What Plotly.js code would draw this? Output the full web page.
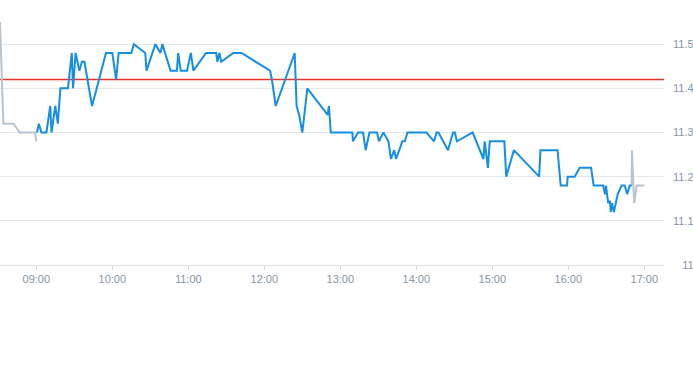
<!DOCTYPE html>
<html>
<head>
<meta charset="utf-8">
<script src="https://cdn.plot.ly/plotly-3.0.1.min.js"></script>
<style>html,body{margin:0;padding:0;background:#fff;}#chart{width:693px;height:365px;}</style>
</head>
<body>
<div id="chart"></div>
<script>
var day = '2024-01-02 ';
var preTimes = ['08:31:20','08:34','08:42','08:47','08:59','09:00'];
var preValues = [11.55,11.32,11.32,11.30,11.30,11.28];

var mainTimes = ['09:00:30','09:02','09:04','09:08','09:11','09:12','09:15','09:17','09:18','09:19',
 '09:25','09:28','09:29','09:31','09:34','09:36','09:38','09:44','09:55','10:00',
 '10:03','10:05','10:15','10:17','10:26','10:27','10:34','10:38','10:39:30','10:46',
 '10:51','10:52','10:54','10:59','11:02','11:04','11:14','11:22','11:23','11:24:30',
 '11:26','11:35:30','11:42','12:04:30','12:06','12:09','12:24','12:25:30','12:27:30','12:30',
 '12:34','12:50','12:51','12:52:30','13:09:30','13:10','13:14','13:18','13:20','13:23',
 '13:29','13:30:30','13:34','13:38','13:40','13:42:30','13:44','13:49','13:51','13:53',
 '14:08','14:14','14:16','14:17:30','14:25','14:29','14:30:30','14:32','14:44:30','14:53',
 '14:54','14:56:30','14:58','15:09:30','15:11','15:17','15:37','15:38','15:51:30','15:54',
 '15:59','15:59:30','16:05','16:09','16:18','16:20','16:27:30','16:29','16:29:45','16:31:30',
 '16:33','16:33:30','16:34:30','16:36','16:39','16:42','16:44:30','16:46:30','16:48:30','16:50'];
var mainValues = [11.30,11.32,11.30,11.30,11.36,11.30,11.36,11.32,11.36,11.40,
 11.40,11.48,11.40,11.48,11.44,11.46,11.46,11.36,11.48,11.48,
 11.42,11.48,11.48,11.50,11.48,11.44,11.50,11.48,11.50,11.44,
 11.44,11.48,11.44,11.44,11.48,11.44,11.48,11.48,11.46,11.48,
 11.46,11.48,11.48,11.44,11.42,11.36,11.48,11.36,11.34,11.30,
 11.40,11.34,11.36,11.30,11.30,11.28,11.30,11.30,11.26,11.30,
 11.30,11.28,11.30,11.28,11.24,11.26,11.24,11.28,11.28,11.30,
 11.30,11.28,11.30,11.30,11.26,11.30,11.30,11.28,11.30,11.24,
 11.28,11.22,11.28,11.28,11.20,11.26,11.20,11.26,11.26,11.18,
 11.18,11.20,11.20,11.22,11.22,11.18,11.18,11.16,11.18,11.14,
 11.145,11.12,11.14,11.12,11.16,11.18,11.18,11.16,11.18,11.18];

var postTimes = ['16:50','16:50:15','16:52','16:53:30','16:54','17:00'];
var postValues = [11.18,11.26,11.14,11.17,11.18,11.18];

var prevClose = 11.42;
var yTickVals = [11, 11.1, 11.2, 11.3, 11.4, 11.5];
var yTickText = ['11', '11.1', '11.2', '11.3', '11.4', '11.5'];
var xRange = ['08:31:20', '17:15:33'];

function ts(a){ return a.map(function(t){ return day + t; }); }
var paddedY = yTickText.map(function(s){ return s.length < 4 ? '\u00a0\u00a0\u00a0' + s : s; });

var traces = [
  {x: ts(xRange), y: [prevClose, prevClose], type: 'scatter', mode: 'lines', line: {color: 'rgb(228,52,42)', width: 1.3}, hoverinfo: 'skip'},
  {x: ts(preTimes), y: preValues, type: 'scatter', mode: 'lines', line: {color: '#b9c4ce', width: 2}, hoverinfo: 'skip'},
  {x: ts(postTimes), y: postValues, type: 'scatter', mode: 'lines', line: {color: '#b9c4ce', width: 2}, hoverinfo: 'skip'},
  {x: ts(mainTimes), y: mainValues, type: 'scatter', mode: 'lines', line: {color: '#158fe2', width: 2}, hoverinfo: 'skip'}
];

var layout = {
  width: 693, height: 365,
  margin: {l: 0, r: 29, t: 0, b: 100, pad: 0},
  paper_bgcolor: '#fff', plot_bgcolor: '#fff',
  showlegend: false,
  font: {family: '"Liberation Sans", Arial, sans-serif', size: 11, color: '#8a97a7'},
  xaxis: {
    type: 'date', range: ts(xRange), tickformat: '%H:%M', dtick: 3600000, tick0: day + '09:00',
    ticks: 'outside', ticklen: 4, tickcolor: '#d5dae0', tickwidth: 1,
    showgrid: false, zeroline: false, showline: true, linecolor: '#dde1e6', linewidth: 1,
    tickfont: {size: 11, color: '#8795a6'}
  },
  yaxis: {
    side: 'right', range: [11, 11.6], tickvals: yTickVals, ticktext: paddedY,
    ticks: '', showgrid: true, gridcolor: '#e6e8eb', gridwidth: 1, zeroline: false, showline: false,
    tickfont: {size: 11, color: '#8795a6'}, ticklabelstandoff: 8
  }
};

Plotly.newPlot('chart', traces, layout, {displayModeBar: false, staticPlot: true});
</script>
</body>
</html>
